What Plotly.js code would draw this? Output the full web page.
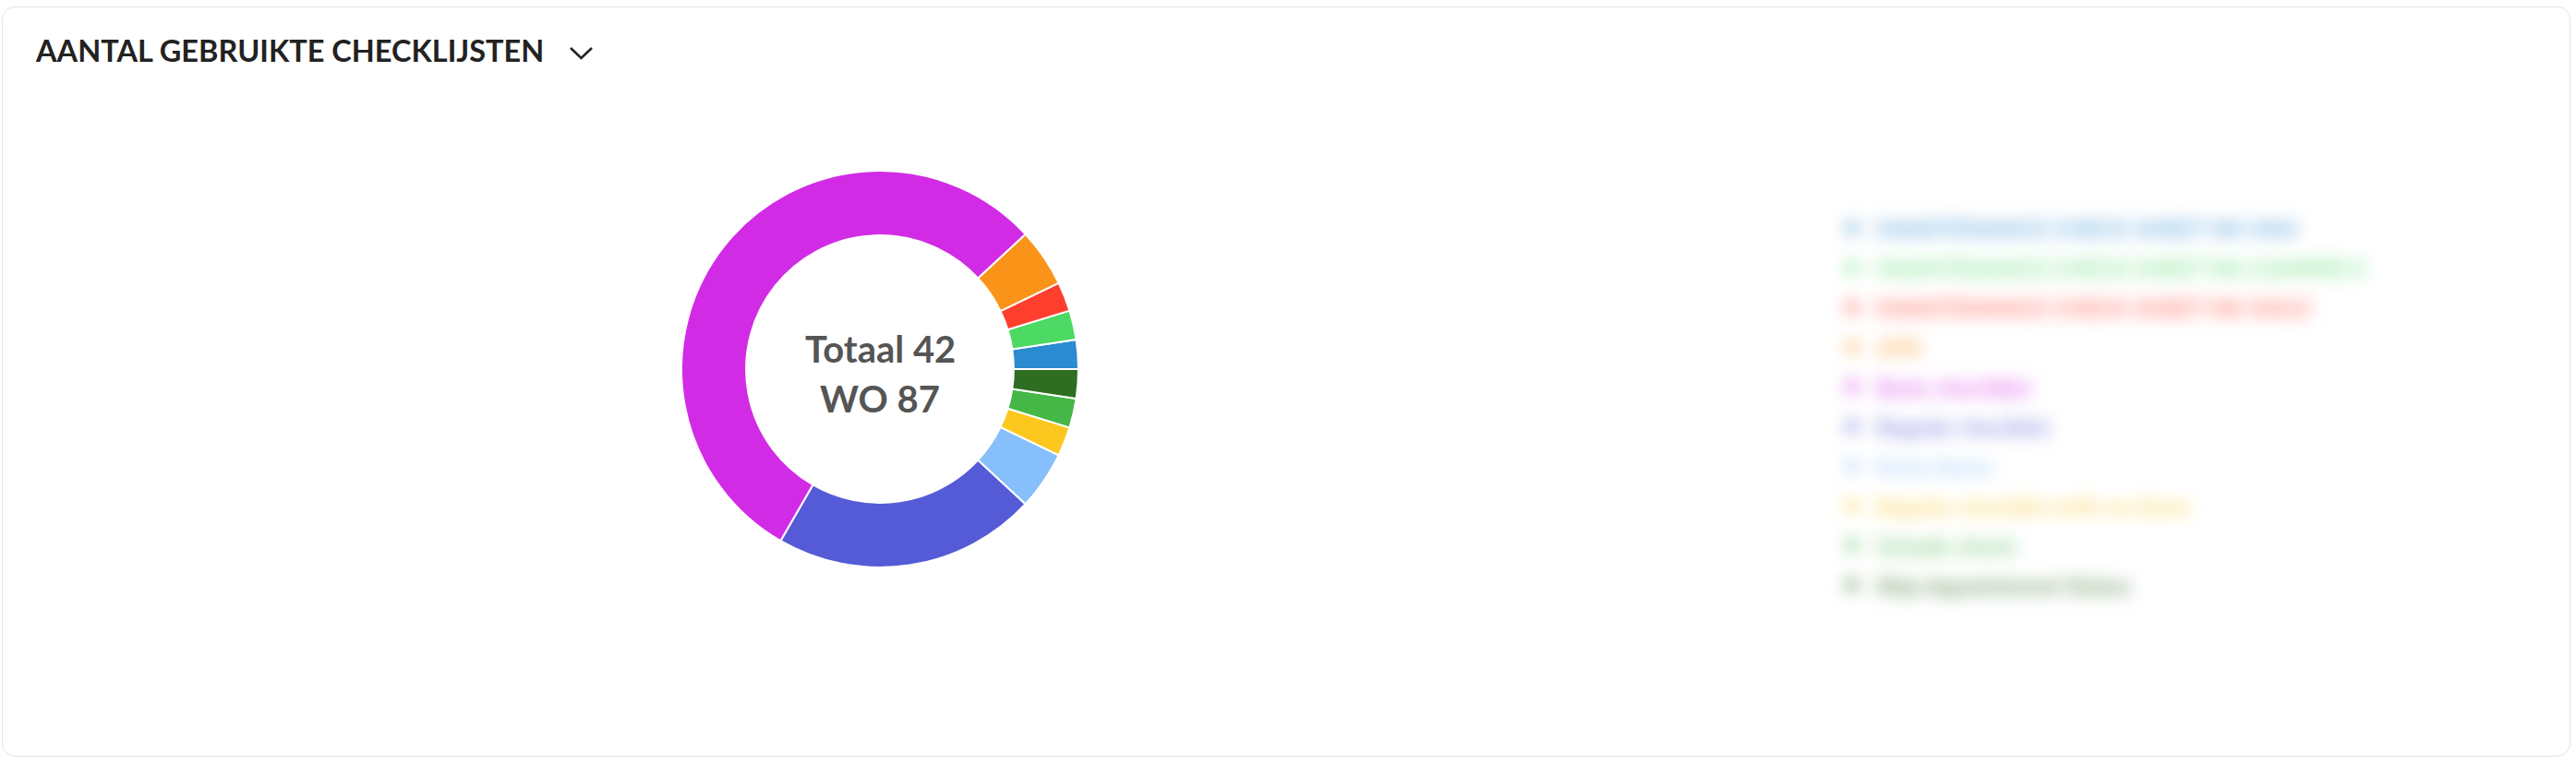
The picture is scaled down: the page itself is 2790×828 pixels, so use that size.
<!DOCTYPE html>
<html>
<head>
<meta charset="utf-8">
<script src="https://cdn.plot.ly/plotly-3.0.1.min.js"></script>
<style>
  html, body { margin: 0; padding: 0; background: #ffffff; width: 2790px; height: 828px; overflow: hidden; }
  #card { position: absolute; left: 2px; top: 7px; width: 2782px; height: 813px; border: 1.5px solid #e4e4e4; border-radius: 14px; box-sizing: border-box; }
  #plot { position: absolute; left: 0; top: 0; width: 2790px; height: 828px; }
  #blur { position: absolute; left: 1960px; top: 205px; width: 700px; height: 475px; backdrop-filter: blur(9px); -webkit-backdrop-filter: blur(9px); background: rgba(255,255,255,0.35); }
</style>
</head>
<body>
<div id="card"></div>
<div id="plot"></div>
<div id="blur"></div>
<script>
// ---- data ----
const chartTitle = "AANTAL GEBRUIKTE CHECKLIJSTEN";
const labels = [
  "MAINTENANCE CHECK SHEET NK VAN",
  "MAINTENANCE CHECK SHEET NK CAMPER II",
  "MAINTENANCE CHECK SHEET NK SOLO",
  "APK",
  "Basis checklijst",
  "Regular checklist",
  "Extra Items",
  "Regular checklist with no Zone",
  "Schade check",
  "Skip Appointment Status"
];
const values = [1, 1, 1, 2, 23, 9, 2, 1, 1, 1];
const colors = ["#2a8bd1", "#4cd964", "#ff3f2e", "#fa9419", "#d22be6", "#555bd6", "#86bffb", "#fcc820", "#45b746", "#2e6e22"];
const centerLines = ["Totaal 42", "WO 87"];

// ---- layout helpers (pixel -> paper) ----
const W = 2790, H = 828;
const px = x => x / W;
const py = y => 1 - y / H;

const cx = 953, cy = 400, R = 215;
const total = values.reduce((a, b) => a + b, 0);

const pie = {
  type: "pie",
  labels: labels,
  values: values,
  sort: false,
  direction: "counterclockwise",
  rotation: 90 - 360 * values[0] / total,
  hole: 0.674,
  textinfo: "none",
  hoverinfo: "label+value",
  showlegend: false,
  marker: { colors: colors, line: { color: "#ffffff", width: 2 } },
  domain: { x: [px(cx - R), px(cx + R)], y: [py(cy + R), py(cy - R)] }
};

const annotations = [];
const shapes = [];

// center text
centerLines.forEach((t, i) => {
  annotations.push({
    xref: "paper", yref: "paper", x: px(cx), y: py(378 + 54 * i),
    xanchor: "center", yanchor: "middle", showarrow: false, text: t,
    font: { family: "Lato, 'Open Sans', sans-serif", size: 40, color: "#555555", weight: 700 }
  });
});

// legend (custom, from labels/colors)
const legX = 2030, legY0 = 247, legDy = 43;
labels.forEach((lab, i) => {
  const yc = legY0 + legDy * i;
  annotations.push({
    xref: "paper", yref: "paper", x: px(legX), y: py(yc),
    xanchor: "left", yanchor: "middle", showarrow: false, text: lab,
    font: { family: "Lato, sans-serif", size: 25, color: colors[i], weight: 700 }
  });
  shapes.push({
    type: "rect", xref: "paper", yref: "paper",
    x0: px(2000), x1: px(2012), y0: py(yc + 6), y1: py(yc - 6),
    fillcolor: colors[i], line: { width: 0 }
  });
});

// chevron next to title
shapes.push({
  type: "path", xref: "paper", yref: "paper",
  path: `M ${px(618)} ${py(52)} L ${px(629.5)} ${py(63)} L ${px(641)} ${py(52)}`,
  line: { color: "#222222", width: 2.6 }
});

const layout = {
  width: W, height: H,
  margin: { l: 0, r: 0, t: 0, b: 0 },
  paper_bgcolor: "rgba(0,0,0,0)",
  plot_bgcolor: "rgba(0,0,0,0)",
  title: {
    text: chartTitle, x: px(39), xanchor: "left", xref: "paper",
    y: py(56), yanchor: "middle", yref: "paper",
    font: { family: "Lato, sans-serif", size: 32.5, color: "#222222", weight: 700 }
  },
  showlegend: false,
  annotations: annotations,
  shapes: shapes
};

Plotly.newPlot("plot", [pie], layout, { displayModeBar: false, staticPlot: true });
</script>
</body>
</html>
